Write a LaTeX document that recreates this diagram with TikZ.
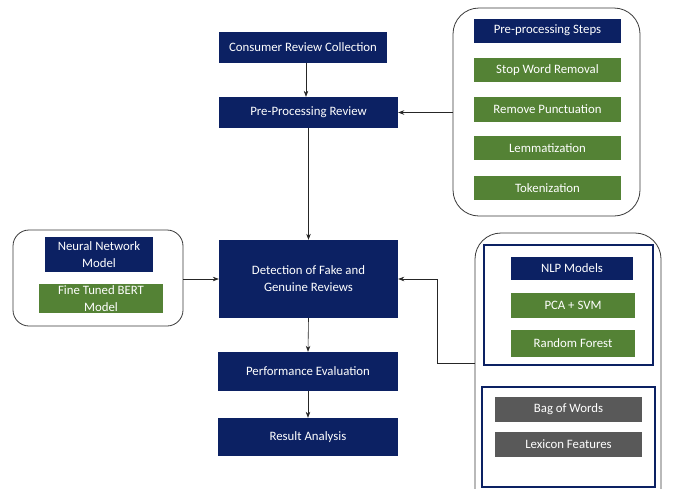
\documentclass[tikz,border=0pt]{standalone}
\usepackage{fontspec}
\setmainfont{Carlito}
\usetikzlibrary{arrows.meta}
\definecolor{navy}{HTML}{0C2163}
\definecolor{grn}{HTML}{548235}
\definecolor{gry}{HTML}{595959}
\definecolor{edge}{HTML}{3A3A3A}
\begin{document}
\begin{tikzpicture}[x=1pt,y=-1pt,
  base/.style={inner sep=1pt,text=white,font=\fontsize{12.8}{17}\selectfont,align=center},
  navybox/.style={base,fill=navy},
  grnbox/.style={base,fill=grn},
  grybox/.style={base,fill=gry},
  group/.style={draw=edge,line width=0.8pt,fill=white},
  framebox/.style={draw=navy,line width=2.8pt},
  conn/.style={draw=black!85,line width=0.6pt,-{Stealth[length=6pt,width=4.5pt]}}]
\useasboundingbox (0,0) rectangle (674,488);
\fill[white] (0,0) rectangle (674,488);
% main column
\node[navybox,minimum width=168pt,minimum height=31pt] (cons) at (303,47) {Consumer Review Collection};
\node[navybox,minimum width=179pt,minimum height=31pt] (pre) at (308.5,112.5) {Pre-Processing Review};
\node[navybox,minimum width=179pt,minimum height=78pt] (det) at (308.5,279) {Detection of Fake and\\Genuine Reviews};
\node[navybox,minimum width=180pt,minimum height=39pt] (perf) at (308,371.5) {Performance Evaluation};
\node[navybox,minimum width=180pt,minimum height=38pt] (res) at (308,437) {Result Analysis};
% top right group
\node[group,rounded corners=26pt,minimum width=187pt,minimum height=208pt] (grp1) at (546.5,112) {};
\node[navybox,minimum width=147pt,minimum height=24pt] (steps) at (547.5,30.5) {Pre-processing Steps};
\node[grnbox,minimum width=147pt,minimum height=24pt] (stop) at (547.5,70) {Stop Word Removal};
\node[grnbox,minimum width=147pt,minimum height=25pt] (punct) at (547.5,109.5) {Remove Punctuation};
\node[grnbox,minimum width=147pt,minimum height=24pt] (lemma) at (547.5,148) {Lemmatization};
\node[grnbox,minimum width=147pt,minimum height=24pt] (token) at (547.5,188) {Tokenization};
% left group
\node[group,rounded corners=16pt,minimum width=170pt,minimum height=96pt] (grp2) at (98,278) {};
\node[navybox,minimum width=108pt,minimum height=35pt] (nn) at (99,254.5) {Neural Network\\Model};
\node[grnbox,minimum width=124pt,minimum height=29pt,inner sep=0pt] (bert) at (101,298.5) {Fine Tuned BERT\\Model};
% bottom right group (cut off at the bottom edge)
\begin{scope}
\clip (0,0) rectangle (674,488);
\draw[group,rounded corners=26pt] (475,233) rectangle (661,520);
\end{scope}
\coordinate (g3w) at (475,363);
\node[framebox,minimum width=169pt,minimum height=120pt] (fr1) at (568.5,305) {};
\node[framebox,minimum width=173pt,minimum height=100pt] (fr2) at (568.5,437) {};
\node[navybox,minimum width=122pt,minimum height=23pt] (nlp) at (572,268.5) {NLP Models};
\node[grnbox,minimum width=124pt,minimum height=25pt] (pca) at (573,305.5) {PCA + SVM};
\node[grnbox,minimum width=124pt,minimum height=27pt] (rf) at (573,343.5) {Random Forest};
\node[grybox,minimum width=147pt,minimum height=25pt] (bow) at (568.5,409.5) {Bag of Words};
\node[grybox,minimum width=147pt,minimum height=25pt] (lex) at (568.5,444.5) {Lexicon Features};
% connectors
\coordinate (bend) at (437,363);
\draw[conn] (cons.south -| 306,0) -- (pre.north -| 306,0);
\draw[conn] (pre.south) -- (det.north);
\draw[conn] (det.south) -- (perf.north);
\draw[conn] (perf.south) -- (res.north);
\draw[conn] (grp1.west |- pre.east) -- (pre.east);
\draw[conn] (grp2.east |- det.west) -- (det.west);
\draw[conn] (g3w) -- (bend) |- (det.east);
\end{tikzpicture}
\end{document}
